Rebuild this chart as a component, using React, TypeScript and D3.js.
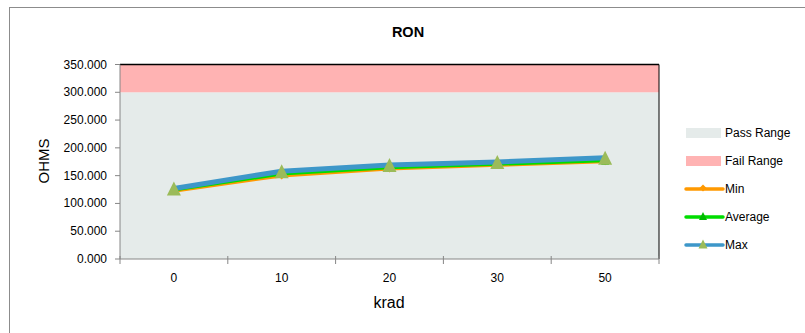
import React, { useEffect } from "react";
import * as d3 from "d3";

const categories = ["0", "10", "20", "30", "50"];
const minValues = [122, 149.5, 162, 168.5, 175];
const avgValues = [124, 153, 164, 170.5, 177];
const maxValues = [127, 158, 169, 174.5, 182];
const passRange = [0, 300];
const failRange = [300, 350];
const yTicks = [0, 50, 100, 150, 200, 250, 300, 350];

const FONT = "'Liberation Sans', Arial, sans-serif";

const triPath = (w: number, h: number) => `M0,${-h / 2}L${w / 2},${h / 2}L${-w / 2},${h / 2}Z`;
const diamondPath = (w: number, h: number) => `M0,${-h / 2}L${w / 2},0L0,${h / 2}L${-w / 2},0Z`;

export default function App() {
  useEffect(() => {
    document.body.style.margin = "0";
  }, []);

  const W = 805, H = 333;
  const left = 120, right = 659, top = 64.5, bottom = 259;
  const x = d3.scaleBand<string>().domain(categories).range([left, right]).padding(0);
  const y = d3.scaleLinear().domain([0, 350]).range([bottom, top]);
  const cx = (c: string) => (x(c) ?? 0) + x.bandwidth() / 2;

  const mkLine = (vals: number[]) =>
    d3.line<number>().x((_, i) => cx(categories[i])).y((v) => y(v))(vals) || "";

  const bandEdges = [...categories.map((c) => x(c) ?? 0), right];

  const series = [
    { name: "Min", vals: minValues, color: "#ff9900", width: 3, marker: diamondPath(7, 7), mcolor: "#ff9900", lmarker: diamondPath(7, 7) },
    { name: "Average", vals: avgValues, color: "#00dd00", width: 3, marker: triPath(8, 8), mcolor: "#00bb00", lmarker: triPath(8, 8) },
    { name: "Max", vals: maxValues, color: "#3d97c9", width: 5, marker: triPath(14, 14), mcolor: "#9bbb59", lmarker: triPath(9, 9) },
  ];

  const legendX = 686, legendTextX = 725;
  const legendRows = [133, 161, 189, 217, 245];

  return (
    <svg width={W} height={H} style={{ display: "block" }} fontFamily={FONT}>
      <rect x={0} y={0} width={W} height={H} fill="#ffffff" />
      <rect x={9.5} y={7.5} width={W} height={H} fill="none" stroke="#8c8c8c" strokeWidth={1} />
      <text x={408} y={37} textAnchor="middle" fontSize={14.5} fontWeight="bold" fill="#000">RON</text>

      {/* ranges */}
      <rect x={left} y={y(passRange[1])} width={right - left} height={y(passRange[0]) - y(passRange[1])} fill="#e5ebea" />
      <rect x={left} y={y(failRange[1])} width={right - left} height={y(failRange[0]) - y(failRange[1])} fill="#ffb3b3" />
      <line x1={left} x2={right} y1={top} y2={top} stroke="#000" strokeWidth={1.5} />
      <line x1={right} x2={right} y1={top} y2={bottom} stroke="#000" strokeWidth={1} />

      {/* y axis */}
      <line x1={left} x2={left} y1={top} y2={bottom} stroke="#868686" />
      {yTicks.map((t) => (
        <g key={t}>
          <line x1={left - 5} x2={left} y1={y(t)} y2={y(t)} stroke="#868686" />
          <text x={107} y={y(t) + 4} textAnchor="end" fontSize={12} fill="#000">{t.toFixed(3)}</text>
        </g>
      ))}
      <text transform={`translate(49,161) rotate(-90)`} textAnchor="middle" fontSize={15} fill="#000">OHMS</text>

      {/* x axis */}
      <line x1={left} x2={right} y1={bottom} y2={bottom} stroke="#868686" />
      {bandEdges.map((e, i) => (
        <line key={i} x1={e} x2={e} y1={bottom - 3} y2={bottom + 5} stroke="#868686" />
      ))}
      {categories.map((c) => (
        <text key={c} x={cx(c)} y={282} textAnchor="middle" fontSize={12} fill="#000">{c}</text>
      ))}
      <text x={389} y={308} textAnchor="middle" fontSize={16} fill="#000">krad</text>

      {/* series */}
      {series.map((s) => (
        <path key={s.name} d={mkLine(s.vals)} fill="none" stroke={s.color} strokeWidth={s.width} strokeLinejoin="round" />
      ))}
      {series.map((s) => (
        <g key={s.name + "m"}>
          {s.vals.map((v, i) => (
            <path key={i} d={s.marker} transform={`translate(${cx(categories[i])},${y(v)})`} fill={s.mcolor} />
          ))}
        </g>
      ))}

      {/* legend */}
      <rect x={legendX} y={legendRows[0] - 5} width={35} height={10} fill="#e5ebea" />
      <text x={legendTextX} y={legendRows[0] + 4} fontSize={12} fill="#000">Pass Range</text>
      <rect x={legendX} y={legendRows[1] - 5} width={35} height={10} fill="#ffb3b3" />
      <text x={legendTextX} y={legendRows[1] + 4} fontSize={12} fill="#000">Fail Range</text>
      {series.map((s, i) => {
        const ly = legendRows[i + 2];
        return (
          <g key={s.name + "l"}>
            <line x1={legendX} x2={legendX + 37} y1={ly} y2={ly} stroke={s.color} strokeWidth={3.5} strokeLinecap="round" />
            <path d={s.lmarker} transform={`translate(${legendX + 17},${ly - 1})`} fill={s.mcolor} />
            <text x={legendTextX} y={ly + 4} fontSize={12} fill="#000">{s.name}</text>
          </g>
        );
      })}
    </svg>
  );
}
